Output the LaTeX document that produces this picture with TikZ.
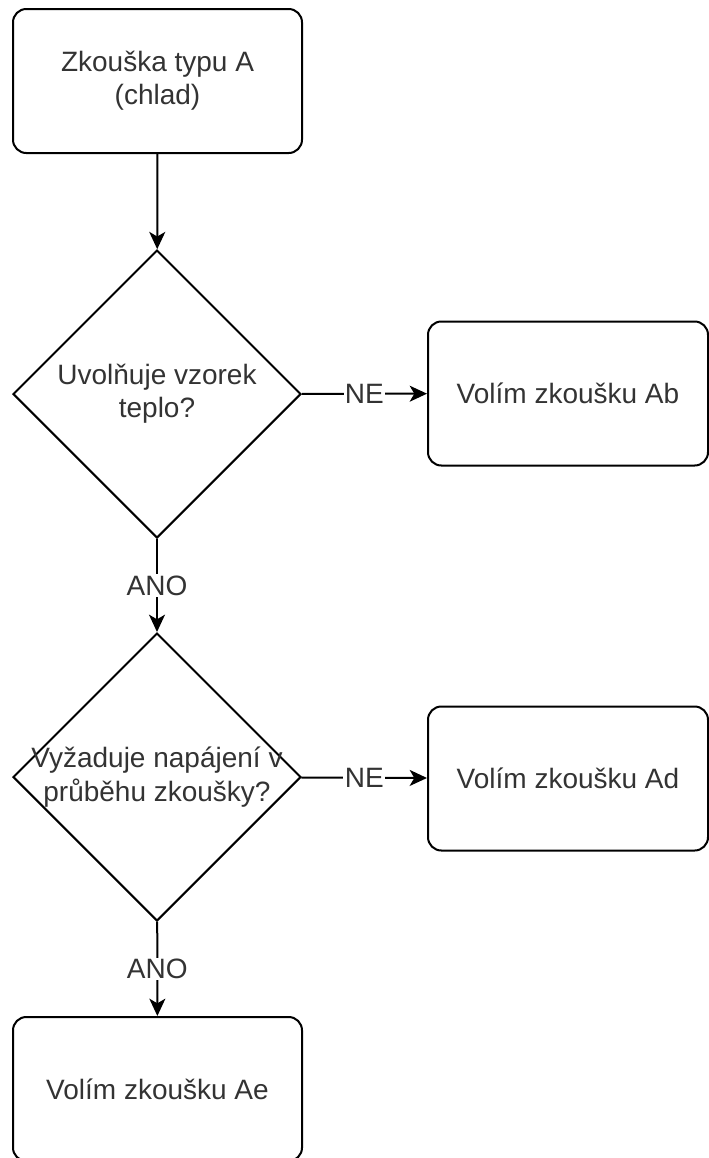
\documentclass[tikz,border=0pt]{standalone}
\usepackage{fontspec}
\setmainfont{Liberation Sans}
\usetikzlibrary{arrows.meta, shapes.geometric}

\begin{document}
\begin{tikzpicture}[x=0.75pt,y=-0.75pt,->,>={Stealth[length=13pt,width=12pt,inset=3.5pt]},
		line width=1.5pt, font=\fontsize{21}{25}\selectfont,
		box/.style={rectangle, rounded corners=10pt, draw, minimum width=289*0.75pt,
			minimum height=144*0.75pt, align=center, text=black!80},
		ask/.style={diamond, draw, minimum width=288*0.75pt, minimum height=288*0.75pt,
			inner sep=0pt},
		lbl/.style={fill=white, inner sep=1pt, text=black!80}]
		\useasboundingbox (0,0) rectangle (709,1158);

		\node[box] (Start) at (157.5,81) {Zkouška typu A\\(chlad)};
		\node[ask, label={[align=center,text=black!80]center:Uvolňuje vzorek\\teplo?}] (Q1) at (157,394) {};
		\node[box, minimum width=280*0.75pt] (Ab) at (568,393.5) {Volím zkoušku Ab};
		\node[ask, label={[align=center,text=black!80]center:Vyžaduje napájení v\\průběhu zkoušky?}] (Q2) at (157,777) {};
		\node[box, minimum width=280*0.75pt] (Ad) at (568,778.5) {Volím zkoušku Ad};
		\node[box] (Ae) at (157.5,1089) {Volím zkoušku Ae};

		\draw (Start) -- (Q1);
		\draw (Q1) -- node[lbl] {NE} (Ab);
		\draw (Q1) -- node[lbl] {ANO} (Q2);
		\draw (Q2) -- node[lbl] {NE} (Ad);
		\draw (Q2) -- node[lbl] {ANO} (Ae);
	\end{tikzpicture}
\end{document}
